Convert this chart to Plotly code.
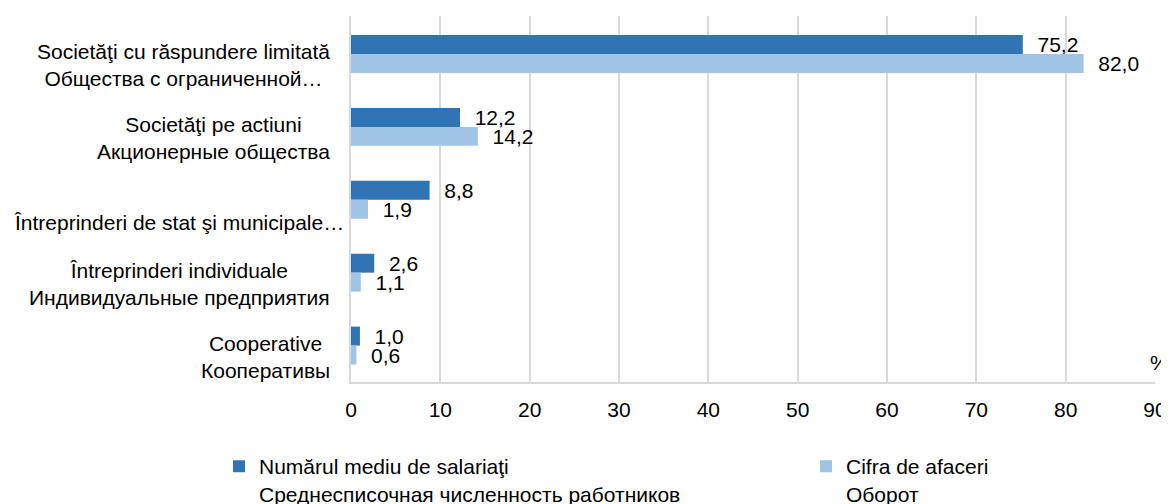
import plotly.graph_objects as go

# categories, top to bottom
categories = [
    "Societăţi cu răspundere limitată<br>Общества с ограниченной…",
    "Societăţi pe actiuni<br>Акционерные общества",
    "Întreprinderi de stat şi municipale…",
    "Întreprinderi individuale<br>Индивидуальные предприятия",
    "Cooperative<br>Кооперативы",
]
employees = [75.2, 12.2, 8.8, 2.6, 1.0]
turnover = [82.0, 14.2, 1.9, 1.1, 0.6]

series_names = [
    "Numărul mediu de salariaţi<br>Среднесписочная численность работников",
    "Cifra de afaceri<br>Оборот",
]
x_ticks = list(range(0, 91, 10))

DARK = "#3174B5"
LIGHT = "#9FC4E5"
FONT = "Liberation Sans, Arial, sans-serif"
FS = 21


def fmt(v):
    # decimal comma, with a little gap after the bar end
    return "\u00a0\u00a0" + f"{v:.1f}".replace(".", ",")


fig = go.Figure()
traces = [(series_names[0], employees, DARK, 542),
          (series_names[1], turnover, LIGHT, None)]
for name, vals, col, lw in traces:
    fig.add_trace(go.Bar(
        y=categories, x=vals, orientation="h", name=name,
        marker=dict(color=col, line=dict(width=0)),
        text=[fmt(v) for v in vals], textposition="outside",
        constraintext="none", cliponaxis=False,
        textfont=dict(family=FONT, size=FS, color="#000000"),
        legendwidth=lw,
    ))

# category labels, lines centred like the original
for cat in categories:
    one_line = "<br>" not in cat
    fig.add_annotation(
        x=0, xref="paper", y=cat, yref="y", text=cat, showarrow=False,
        xanchor="right", align="center",
        xshift=-5 if one_line else -19, yshift=-23 if one_line else -11,
        font=dict(family=FONT, size=FS, color="#000000"),
    )

fig.add_annotation(
    x=1, xref="paper", y=0.052, yref="paper", text="%", showarrow=False,
    xanchor="center", yanchor="middle", xshift=4,
    font=dict(family=FONT, size=FS, color="#000000"),
)

# the page has an 8px body margin, so everything is laid out 8px up/left
fig.update_layout(
    width=1169, height=504,
    margin=dict(l=343, r=22, t=8, b=130, autoexpand=False),
    paper_bgcolor="white", plot_bgcolor="white",
    barmode="group", bargap=0.48, bargroupgap=0,
    font=dict(family=FONT, size=FS, color="#000000"),
    xaxis=dict(
        range=[0, 90], tickvals=x_ticks, showgrid=True,
        gridcolor="#D9D9D9", gridwidth=1.5,
        showline=True, linecolor="#D9D9D9", linewidth=1.5,
        zeroline=False, ticks="", ticklabelstandoff=8,
        tickfont=dict(family=FONT, size=FS, color="#000000"),
    ),
    yaxis=dict(
        autorange="reversed", showticklabels=False, showgrid=False,
        showline=True, linecolor="#D9D9D9", linewidth=1.5, ticks="",
    ),
    legend=dict(
        orientation="h", x=-0.1642, xanchor="left", y=-0.1751, yanchor="top",
        valign="top", traceorder="normal",
        font=dict(family=FONT, size=FS, color="#000000"),
    ),
    showlegend=True,
)

fig.write_html("out.html")
